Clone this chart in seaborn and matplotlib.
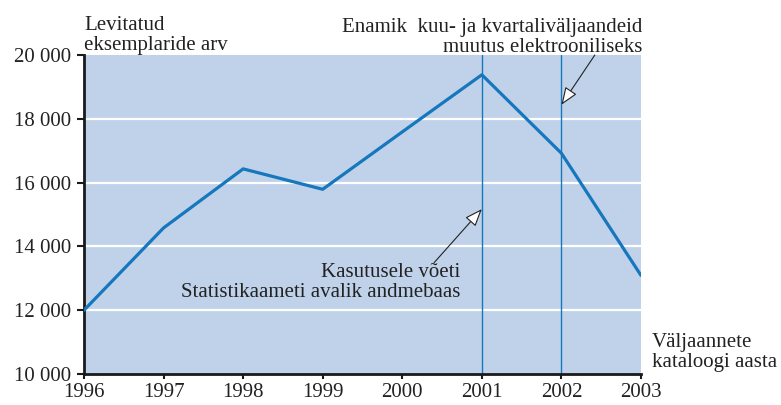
import matplotlib
matplotlib.use("Agg")
import matplotlib.pyplot as plt
import matplotlib.ticker as mticker
import seaborn as sns
import pandas as pd

years = [1996, 1997, 1998, 1999, 2000, 2001, 2002, 2003]
copies = [12000, 14580, 16430, 15790, 17590, 19380, 16920, 13090]
event_years = [2001, 2002]
y_ticks = [10000, 12000, 14000, 16000, 18000, 20000]

ylabel_lines = ["Levitatud", "eksemplaride arv"]
xlabel_lines = ["Väljaannete", "kataloogi aasta"]
note_top_lines = ["Enamik  kuu- ja kvartaliväljaandeid", "muutus elektrooniliseks"]
note_mid_lines = ["Kasutusele võeti", "Statistikaameti avalik andmebaas"]

LINE = "#1677bd"
BG = "#bfd2ea"
TXT = "#222222"

sns.set_theme(style="white")
plt.rcParams["font.family"] = ["Liberation Serif", "DejaVu Serif"]

W, H = 781, 405
fig = plt.figure(figsize=(W / 100, H / 100), dpi=100)
x0, x1, ytop, ybot = 84, 641, 55, 374
ax = fig.add_axes([x0 / W, 1 - ybot / H, (x1 - x0) / W, (ybot - ytop) / H])
ax.set_facecolor(BG)

df = pd.DataFrame({"year": years, "copies": copies})
sns.lineplot(data=df, x="year", y="copies", ax=ax, color=LINE, lw=2.3, zorder=3)

for yv in y_ticks[1:-1]:
    ax.axhline(yv, color="white", lw=1.6, zorder=1)
for ev in event_years:
    ax.axvline(ev, color=LINE, lw=1.0, zorder=2)

ax.set_xlim(1996, 2003)
ax.set_ylim(10000, 20000)
ax.set_xticks(years)
ax.set_yticks(y_ticks)
ax.yaxis.set_major_formatter(mticker.FuncFormatter(lambda v, p: f"{int(v):,}".replace(",", " ")))
ax.set_xlabel("")
ax.set_ylabel("")
for s in ["top", "right"]:
    ax.spines[s].set_visible(False)
for s in ["left", "bottom"]:
    ax.spines[s].set_color("#1a1a1a")
    ax.spines[s].set_linewidth(2.0)
ax.tick_params(axis="y", direction="out", length=5, width=1.5, color="#1a1a1a",
               labelsize=15, labelcolor=TXT, pad=4, left=True)
ax.tick_params(axis="x", direction="out", length=3.5, width=1.5, color="#1a1a1a",
               labelsize=15, labelcolor=TXT, pad=3, bottom=True)

def px(xp, yp):
    return (xp / W, 1 - yp / H)

fs = 15
def lines(x, baselines, texts, ha):
    for b, t in zip(baselines, texts):
        fig.text(*px(x, b), t, ha=ha, va="baseline", fontsize=fs, color=TXT)

lines(84, [30, 50], ylabel_lines, "left")
lines(642, [32, 52], note_top_lines, "right")
lines(460, [277, 297], note_mid_lines, "right")
lines(652, [347, 367], xlabel_lines, "left")

arrow = dict(arrowstyle="-|>,head_length=0.9,head_width=0.35", fc="white", ec="#222222",
             lw=0.8, shrinkA=0, shrinkB=0)
ax.annotate("", xy=(2001, 15170), xytext=(2000.40, 13490), arrowprops=arrow, annotation_clip=False)
ax.annotate("", xy=(2002, 18440), xytext=(2002.42, 20000), arrowprops=arrow, annotation_clip=False)

fig.savefig("out.png", dpi=100)
